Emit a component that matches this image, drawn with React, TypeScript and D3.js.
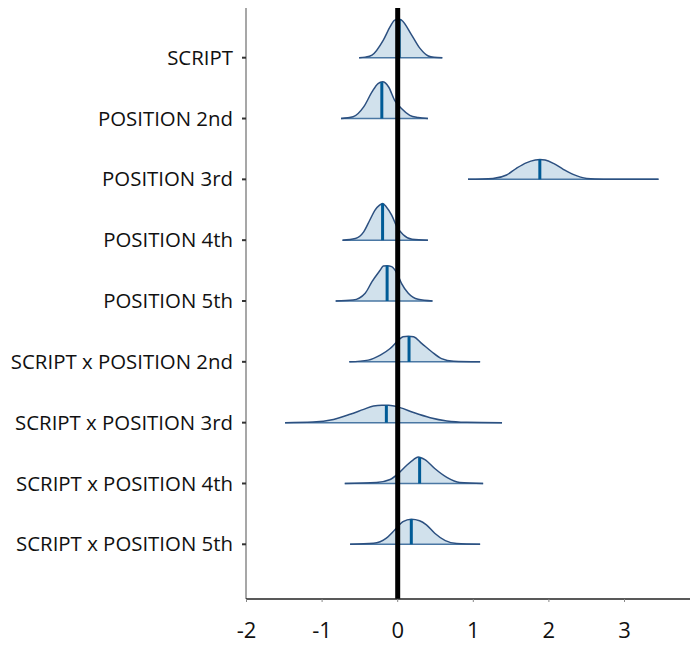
import React, { useRef, useEffect } from "react";
import * as d3 from "d3";

// parameter names, top to bottom
const labels = [
  "SCRIPT",
  "POSITION 2nd",
  "POSITION 3rd",
  "POSITION 4th",
  "POSITION 5th",
  "SCRIPT x POSITION 2nd",
  "SCRIPT x POSITION 3rd",
  "SCRIPT x POSITION 4th",
  "SCRIPT x POSITION 5th",
];

// posterior medians
const medians = [0.02, -0.21, 1.88, -0.2, -0.14, 0.15, -0.15, 0.29, 0.18];

// density curves, [value, density]
const dScript = [[-0.51, 0], [-0.43, 0.03], [-0.34, 0.14], [-0.19, 0.93], [-0.1, 1.63], [-0.04, 1.98], [0.02, 2.03], [0.05, 1.98], [0.185, 1.19], [0.295, 0.49], [0.405, 0.09], [0.48, 0.02], [0.59, 0]];
const dPos2 = [[-0.75, 0], [-0.59, 0.09], [-0.45, 0.61], [-0.34, 1.4], [-0.26, 1.84], [-0.2, 1.93], [-0.12, 1.66], [-0.04, 0.96], [0.05, 0.53], [0.16, 0.17], [0.27, 0.05], [0.4, 0]];
const dPos3 = [[0.93, 0], [1.26, 0.05], [1.44, 0.23], [1.57, 0.58], [1.7, 0.87], [1.82, 1.02], [1.88, 1.05], [1.95, 1.02], [2.06, 0.84], [2.19, 0.53], [2.32, 0.26], [2.5, 0.05], [2.72, 0.01], [3.45, 0]];
const dPos4 = [[-0.73, 0], [-0.56, 0.09], [-0.45, 0.44], [-0.37, 1.05], [-0.3, 1.58], [-0.24, 1.84], [-0.2, 1.93], [-0.15, 1.75], [-0.08, 1.32], [-0.01, 0.7], [0.07, 0.3], [0.19, 0.05], [0.4, 0]];
const dPos5 = [[-0.82, 0], [-0.59, 0.05], [-0.43, 0.41], [-0.34, 1.02], [-0.23, 1.63], [-0.19, 1.84], [-0.14, 1.86], [-0.08, 1.81], [-0.01, 1.46], [0.05, 0.93], [0.14, 0.41], [0.27, 0.09], [0.46, 0]];
const dSxP2 = [[-0.64, 0], [-0.39, 0.09], [-0.23, 0.35], [-0.1, 0.7], [0.01, 1.14], [0.07, 1.32], [0.14, 1.35], [0.21, 1.32], [0.32, 0.96], [0.45, 0.53], [0.58, 0.17], [0.74, 0.03], [1.09, 0]];
const dSxP3 = [[-1.49, 0], [-1.12, 0.03], [-0.85, 0.17], [-0.63, 0.44], [-0.45, 0.7], [-0.32, 0.88], [-0.21, 0.91], [-0.12, 0.91], [0.03, 0.79], [0.21, 0.53], [0.43, 0.26], [0.65, 0.09], [0.91, 0.02], [1.38, 0]];
const dSxP4 = [[-0.7, 0], [-0.28, 0.05], [-0.1, 0.21], [0.01, 0.53], [0.12, 0.96], [0.21, 1.26], [0.27, 1.4], [0.36, 1.26], [0.49, 0.79], [0.65, 0.32], [0.82, 0.05], [1.13, 0]];
const dSxP5 = [[-0.63, 0], [-0.32, 0.05], [-0.15, 0.32], [-0.04, 0.75], [0.07, 1.19], [0.18, 1.32], [0.29, 1.24], [0.38, 1.02], [0.49, 0.58], [0.63, 0.19], [0.78, 0.04], [1.09, 0]];

const densities = [dScript, dPos2, dPos3, dPos4, dPos5, dSxP2, dSxP3, dSxP4, dSxP5];

const xTicks = [-2, -1, 0, 1, 2, 3];

const FONT = "'Open Sans', sans-serif";

export default function App() {
  const svgRef = useRef<SVGSVGElement>(null);

  useEffect(() => {
    const svg = d3.select(svgRef.current);
    svg.selectAll("*").remove();

    const x = d3.scaleLinear().domain([-2, 3]).range([246.5, 624.5]);
    const y = d3.scalePoint<string>().domain(labels).range([57.7, 544.3]);
    const h = d3.scaleLinear().domain([0, 1]).range([0, 19]);

    const top = 8, bottom = 599, left = 246, right = 690;

    // left axis
    svg.append("line")
      .attr("x1", left).attr("x2", left)
      .attr("y1", top).attr("y2", bottom)
      .attr("stroke", "#8a8a8a").attr("stroke-width", 1.5);

    const yt = svg.append("g");
    yt.selectAll("line").data(labels).join("line")
      .attr("x1", left - 4).attr("x2", left)
      .attr("y1", d => y(d)!).attr("y2", d => y(d)!)
      .attr("stroke", "#333").attr("stroke-width", 2);
    yt.selectAll("text").data(labels).join("text")
      .attr("x", 233).attr("y", d => y(d)!)
      .attr("dy", "0.35em")
      .attr("text-anchor", "end")
      .attr("font-family", FONT).attr("font-size", 20.4)
      .attr("fill", "#111")
      .text(d => d);

    // ridges
    densities.forEach((pts, i) => {
      const base = y(labels[i])!;
      const area = d3.area<number[]>()
        .x(d => x(d[0]))
        .y0(base)
        .y1(d => base - h(d[1]))
        .curve(d3.curveMonotoneX);
      const line = d3.line<number[]>()
        .x(d => x(d[0]))
        .y(d => base - h(d[1]))
        .curve(d3.curveMonotoneX);
      const g = svg.append("g");
      g.append("path").attr("d", area(pts)).attr("fill", "#d1e1ec");
      g.append("line")
        .attr("x1", x(pts[0][0])).attr("x2", x(pts[pts.length - 1][0]))
        .attr("y1", base).attr("y2", base)
        .attr("stroke", "#4a77a3").attr("stroke-width", 1.5);
      g.append("path").attr("d", line(pts))
        .attr("fill", "none").attr("stroke", "#2c5080").attr("stroke-width", 1.5);

      // median line reaches up to the curve
      const m = medians[i];
      const k = pts.findIndex(p => p[0] >= m);
      const a = pts[Math.max(k - 1, 0)], b = pts[k];
      const t = b[0] === a[0] ? 0 : (m - a[0]) / (b[0] - a[0]);
      const dm = a[1] + t * (b[1] - a[1]);
      g.append("line")
        .attr("x1", x(m)).attr("x2", x(m))
        .attr("y1", base).attr("y2", base - h(dm))
        .attr("stroke", "#005b96").attr("stroke-width", 3);
    });

    // zero reference line
    svg.append("line")
      .attr("x1", x(0)).attr("x2", x(0))
      .attr("y1", top).attr("y2", bottom)
      .attr("stroke", "#000").attr("stroke-width", 5);

    // bottom axis
    svg.append("line")
      .attr("x1", left).attr("x2", right)
      .attr("y1", bottom).attr("y2", bottom)
      .attr("stroke", "#222").attr("stroke-width", 1.5);

    const xt = svg.append("g");
    xt.selectAll("line").data(xTicks).join("line")
      .attr("x1", d => x(d)).attr("x2", d => x(d))
      .attr("y1", bottom).attr("y2", bottom + 3)
      .attr("stroke", "#888").attr("stroke-width", 1);
    xt.selectAll("text").data(xTicks).join("text")
      .attr("x", d => x(d)).attr("y", 638)
      .attr("text-anchor", "middle")
      .attr("font-family", FONT).attr("font-size", 22)
      .attr("fill", "#111")
      .text(d => String(d));
  }, []);

  return (
    <svg
      ref={svgRef}
      width={690}
      height={651}
      style={{ position: "absolute", left: 0, top: 0, background: "#fff" }}
    />
  );
}
